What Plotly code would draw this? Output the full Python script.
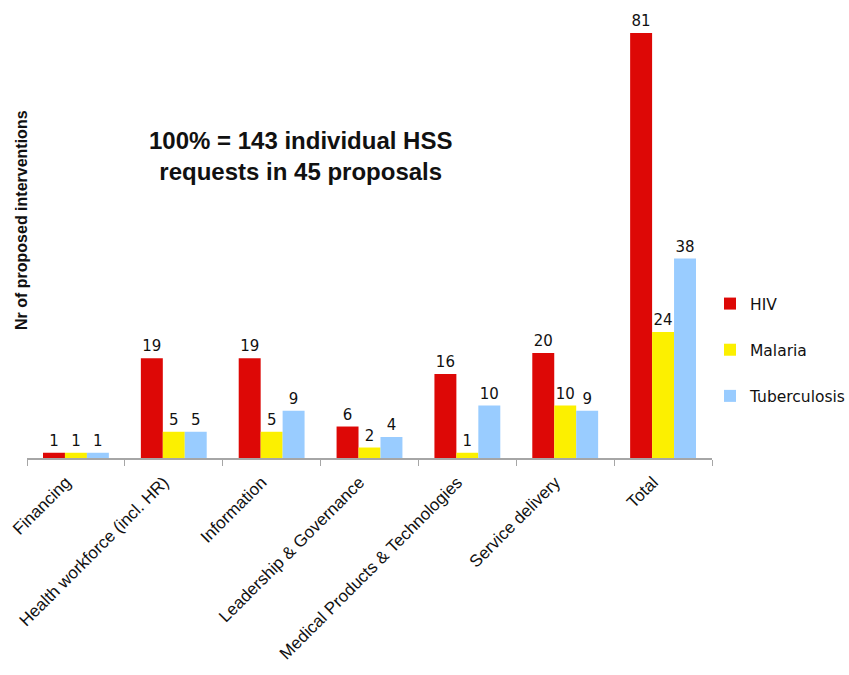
import plotly.graph_objects as go

categories = ["Financing", "Health workforce (incl. HR)", "Information",
              "Leadership & Governance", "Medical Products & Technologies",
              "Service delivery", "Total"]
hiv = [1, 19, 19, 6, 16, 20, 81]
malaria = [1, 5, 5, 2, 1, 10, 24]
tb = [1, 5, 9, 4, 10, 9, 38]

series = [("HIV", hiv, "#DD0806"), ("Malaria", malaria, "#FCF000"),
          ("Tuberculosis", tb, "#99CCFF")]

LBL_FONT = "DejaVu Sans, Verdana, sans-serif"
AX_FONT = "Liberation Sans, Arial, sans-serif"

fig = go.Figure()
for name, vals, col in series:
    fig.add_trace(go.Bar(
        x=categories, y=vals, name=name, marker_color=col, marker_line_width=0,
        text=vals, textposition="outside", cliponaxis=False, constraintext="none",
        textfont=dict(family=LBL_FONT, size=15, color="#111111"),
        legendgroup=name,
    ))

W, H = 849, 675
L, R, T, B = 27, 137, 12, 217
pw = W - L - R
ph = H - T - B

fig.update_layout(
    width=W, height=H,
    margin=dict(l=L, r=R, t=T, b=B, autoexpand=False),
    plot_bgcolor="white", paper_bgcolor="white",
    barmode="group", bargap=0.327, bargroupgap=0,
    showlegend=True,
    legend=dict(xref="container", yref="container", x=710 / W, y=1 - 350 / H,
                xanchor="left", yanchor="middle",
                font=dict(family=LBL_FONT, size=15.5, color="#111111"),
                tracegroupgap=23, itemwidth=30, bgcolor="rgba(0,0,0,0)"),
    xaxis=dict(showline=True, linecolor="#A6A6A6", linewidth=1.5,
               ticks="outside", tickson="boundaries", ticklen=6, tickcolor="#A6A6A6",
               tickangle=-45, ticklabelstandoff=6, ticklabelshift=-10,
               tickfont=dict(family=AX_FONT, size=17, color="#111111")),
    yaxis=dict(range=[0, 85], visible=False),
    annotations=[
        dict(text="<b>100% = 143 individual HSS<br>requests in 45 proposals</b>",
             xref="paper", yref="paper",
             x=(300 - L) / pw, y=(H - B - 156) / ph,
             xanchor="center", yanchor="middle", showarrow=False,
             font=dict(family=AX_FONT, size=24, color="#111111"),
             align="center"),
        dict(text="<b>Nr of proposed interventions</b>", textangle=-90,
             xref="paper", yref="paper",
             x=(21 - L) / pw, y=(H - B - 220) / ph,
             xanchor="center", yanchor="middle", showarrow=False,
             font=dict(family=AX_FONT, size=16, color="#111111")),
    ],
)

fig.write_html("out.html")
